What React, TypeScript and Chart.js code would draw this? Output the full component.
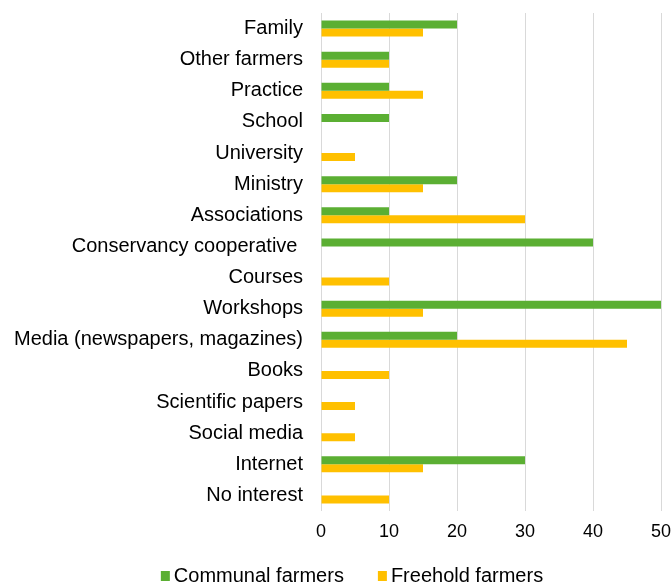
import React, { useEffect, useRef } from "react";
import { Chart, registerables } from "chart.js";

Chart.register(...registerables);

const categories = [
  "Family",
  "Other farmers",
  "Practice",
  "School",
  "University",
  "Ministry",
  "Associations",
  "Conservancy cooperative ",
  "Courses",
  "Workshops",
  "Media (newspapers, magazines)",
  "Books",
  "Scientific papers",
  "Social media",
  "Internet",
  "No interest",
];
const communal = [20, 10, 10, 10, 0, 20, 10, 40, 0, 50, 20, 0, 0, 0, 30, 0];
const freehold = [15, 10, 15, 0, 5, 15, 30, 0, 10, 15, 45, 10, 5, 5, 15, 10];
const xTicks = [0, 10, 20, 30, 40, 50];

const FONT = "Liberation Sans, Arial, Helvetica, sans-serif";

const bottomLegend = {
  id: "bottomLegend",
  afterDraw(chart: any) {
    const ctx = chart.ctx as CanvasRenderingContext2D;
    ctx.save();
    ctx.font = `20px ${FONT}`;
    ctx.textBaseline = "alphabetic";
    ctx.textAlign = "left";
    const boxW = 9;
    const gap = 4;
    const spacing = 34;
    const items = chart.data.datasets.map((ds: any) => ({
      label: ds.label,
      color: ds.backgroundColor,
      w: boxW + gap + ctx.measureText(ds.label).width,
    }));
    const total =
      items.reduce((s: number, it: any) => s + it.w, 0) + spacing * (items.length - 1);
    let x = 352 - total / 2;
    const baseline = 582;
    for (const it of items) {
      ctx.fillStyle = it.color;
      ctx.fillRect(x, 571, boxW, 10);
      ctx.fillStyle = "#000";
      ctx.fillText(it.label, x + boxW + gap, baseline);
      x += it.w + spacing;
    }
    ctx.restore();
  },
};

export default function App() {
  const ref = useRef<HTMLCanvasElement>(null);
  useEffect(() => {
    document.body.style.margin = "0";
    const chart = new Chart(ref.current!, {
      type: "bar",
      data: {
        labels: categories,
        datasets: [
          {
            label: "Communal farmers",
            data: communal,
            backgroundColor: "#5BAF33",
            categoryPercentage: 0.514,
            barPercentage: 1,
          },
          {
            label: "Freehold farmers",
            data: freehold,
            backgroundColor: "#FFC000",
            categoryPercentage: 0.514,
            barPercentage: 1,
          },
        ],
      },
      plugins: [bottomLegend],
      options: {
        indexAxis: "y",
        animation: false,
        responsive: false,
        layout: { padding: { left: 14, right: 11, top: 13, bottom: 32 } },
        plugins: {
          legend: { display: false },
          tooltip: { enabled: false },
        },
        scales: {
          x: {
            min: 0,
            max: 50,
            afterBuildTicks: (axis: any) => {
              axis.ticks = xTicks.map((v) => ({ value: v }));
            },
            afterFit: (axis: any) => {
              axis.paddingLeft = 0;
              axis.paddingRight = 0;
              axis.height = 40;
            },
            grid: { color: "#D9D9D9", lineWidth: 1, drawTicks: false },
            border: { display: false },
            ticks: {
              color: "#000",
              padding: 10,
              font: { family: FONT, size: 18 },
            },
          },
          y: {
            afterFit: (axis: any) => {
              axis.paddingTop = 0;
              axis.paddingBottom = 0;
              axis.width = 307;
            },
            grid: { display: false, drawTicks: false },
            border: { display: false },
            ticks: {
              color: "#000",
              padding: 18,
              autoSkip: false,
              font: { family: FONT, size: 20 },
            },
          },
        },
      },
    });
    return () => chart.destroy();
  }, []);
  return <canvas ref={ref} width={672} height={583} style={{ display: "block" }} />;
}
